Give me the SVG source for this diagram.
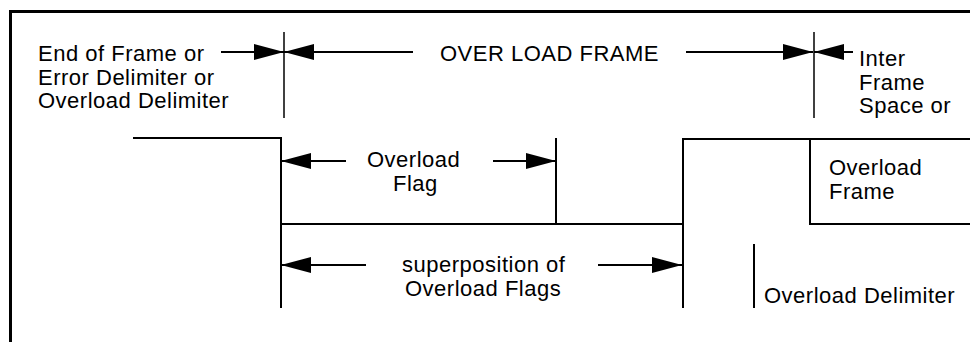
<svg xmlns="http://www.w3.org/2000/svg" width="970" height="342" viewBox="0 0 970 342">
<style>
  text { font-family: "Liberation Sans", Arial, sans-serif; font-size: 22px; fill: #000; letter-spacing: 0.5px; }
  .thin { stroke: #000; stroke-width: 1.5; fill: none; }
  .sig { stroke: #000; stroke-width: 2; fill: none; }
  .border { stroke: #000; stroke-width: 3; fill: none; }
  .arr { stroke: #000; stroke-width: 1.8; fill: none; marker-end: url(#ah); }
</style>
<defs>
  <marker id="ah" markerUnits="userSpaceOnUse" markerWidth="32" markerHeight="18" refX="30" refY="8" orient="auto">
    <path d="M0,0 L30,8 L0,16 Z" fill="#000"/>
  </marker>
</defs>
<rect width="970" height="342" fill="#fff"/>
<g id="frame-border">
  <path class="border" d="M10.5,342 V11.5 H970"/>
</g>
<g id="signal">
  <path class="sig" d="M133,138 H281 V308"/>
  <path class="sig" d="M281,224 H683"/>
  <path class="sig" d="M556,138 V224"/>
  <path class="sig" d="M683,308 V139 H970"/>
  <path class="sig" d="M810,139 V224 H970"/>
  <path class="sig" d="M754,244 V308"/>
</g>
<g id="markers">
  <path class="thin" d="M284,32 V118"/>
  <path class="thin" d="M814,32 V118"/>
</g>
<g id="connectors">
  <line class="arr" x1="221" y1="52" x2="284" y2="52"/>
  <line class="arr" x1="413" y1="52" x2="284" y2="52"/>
  <line class="arr" x1="686" y1="52" x2="813" y2="52"/>
  <line class="arr" x1="853" y1="52" x2="814" y2="52"/>
  <line class="arr" x1="346" y1="161" x2="281" y2="161"/>
  <line class="arr" x1="493" y1="161" x2="556" y2="161"/>
  <line class="arr" x1="366" y1="265" x2="281" y2="265"/>
  <line class="arr" x1="598" y1="265" x2="682" y2="265"/>
</g>
<g id="label-end-of-frame">
  <text x="38" y="61">End of Frame or</text>
  <text x="38" y="84.5">Error Delimiter or</text>
  <text x="38" y="108">Overload Delimiter</text>
</g>
<g id="label-overload-frame-title">
  <text x="440" y="61">OVER LOAD FRAME</text>
</g>
<g id="label-inter-frame">
  <text x="859" y="66">Inter</text>
  <text x="859" y="89.5">Frame</text>
  <text x="859" y="113">Space or</text>
</g>
<g id="label-overload-flag">
  <text x="367" y="167">Overload</text>
  <text x="393" y="190.5">Flag</text>
</g>
<g id="label-overload-frame">
  <text x="829" y="175">Overload</text>
  <text x="829" y="199">Frame</text>
</g>
<g id="label-superposition">
  <text x="402" y="272">superposition of</text>
  <text x="405" y="295.5">Overload Flags</text>
</g>
<g id="label-overload-delimiter">
  <text x="764" y="303">Overload Delimiter</text>
</g>
</svg>
